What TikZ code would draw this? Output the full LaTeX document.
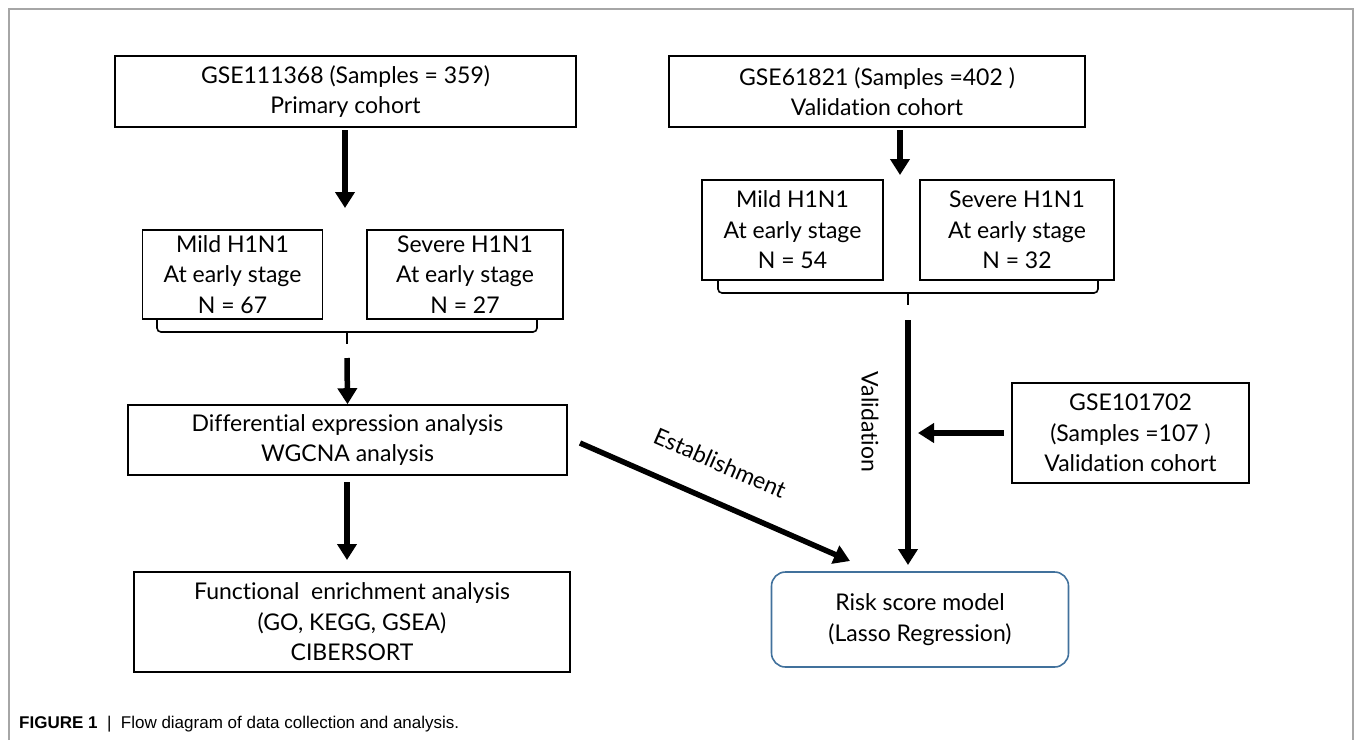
\documentclass[tikz,border=0pt]{standalone}
\usepackage{fontspec}
\setmainfont{Lato}[Ligatures={NoCommon}]
\newfontfamily\capfont{Liberation Sans}
\usetikzlibrary{arrows.meta}
\definecolor{riskblue}{HTML}{41719C}
\definecolor{framegray}{HTML}{A6A6A6}
\begin{document}
\begin{tikzpicture}[x=1pt,y=-1pt,
  box/.style={draw, line width=1.6pt, inner sep=0pt, align=center,
    font=\fontsize{23}{30.5}\selectfont},
  flow/.style={line width=5.5pt, -{Triangle[width=19pt,length=16pt]}},
  brace/.style={line width=1.6pt, rounded corners=4pt},
  lbl/.style={font=\fontsize{23}{26}\selectfont, inner sep=0pt}]
\useasboundingbox (0,0) rectangle (1355,740);
% page frame
\draw[framegray, line width=1.2pt] (9,740) -- (9,9) -- (1353,9) -- (1353,740);

% primary cohort column
\node[box, minimum width=461, minimum height=71] (prim) at (345.5,91.5)
  {GSE111368 (Samples = 359)\\Primary cohort};
\node[box, minimum width=180, minimum height=89] (mild1) at (232.5,274.5)
  {Mild H1N1\\At early stage\\N = 67};
\node[box, minimum width=196, minimum height=89] (sev1) at (465,274.5)
  {Severe H1N1\\At early stage\\N = 27};
\node[box, minimum width=439, minimum height=70] (diff) at (347.5,440)
  {Differential expression analysis\\WGCNA analysis};
\node[box, minimum width=436, minimum height=100] (func) at (352,622)
  {Functional\ \ enrichment analysis\\(GO, KEGG, GSEA)\\CIBERSORT};

% validation cohort column
\node[box, minimum width=416, minimum height=71] (val) at (877,91.5)
  {GSE61821 (Samples =402 )\\Validation cohort};
\node[box, minimum width=181, minimum height=100] (mild2) at (792.5,230)
  {Mild H1N1\\At early stage\\N = 54};
\node[box, minimum width=194, minimum height=100] (sev2) at (1017,230)
  {Severe H1N1\\At early stage\\N = 32};
\node[box, minimum width=237, minimum height=100] (ext) at (1130.5,433)
  {GSE101702\\(Samples =107 )\\Validation cohort};
\node[box, draw=riskblue, rounded corners=14pt, minimum width=297, minimum height=95]
  (risk) at (920,619.5) {Risk score model\\(Lasso Regression)};

% braces grouping the mild and severe groups
\coordinate (b1l) at (157,320);
\coordinate (b1r) at (537,320);
\coordinate (b1t) at (347,344);
\draw[brace] (b1l) |- (b1t |- 0,332) -| (b1r);
\draw[line width=1.6pt] (b1t |- 0,332) -- (b1t);
\coordinate (b2l) at (718,280);
\coordinate (b2r) at (1098,280);
\coordinate (b2t) at (908,305);
\draw[brace] (b2l) |- (b2t |- 0,293) -| (b2r);
\draw[line width=1.6pt] (b2t |- 0,293) -- (b2t);

% arrow end points
\coordinate (a1s) at (345,130);
\coordinate (a1e) at (345,208);
\coordinate (a2s) at (347,358);
\coordinate (a3s) at (347,482);
\coordinate (a3e) at (347,560);
\coordinate (a4s) at (900,130);
\coordinate (a4e) at (900,175);
\coordinate (vs) at (908,320);
\coordinate (ve) at (908,565);
\coordinate (vj) at (918,433);
\coordinate (es) at (580,443);
\coordinate (ee) at (850,561);

\draw[flow] (a1s) -- (a1e);
\draw[flow] (a2s) -- (diff.north);
\draw[flow] (a3s) -- (a3e);
\draw[flow] (a4s) -- (a4e);
\draw[flow] (vs) -- (ve);
\draw[flow] (ext.west) ++(-7,0) -- (vj);
\draw[flow] (es) -- (ee);

% connector labels
\node[lbl, rotate=-90] (vlab) at (870,422) {Validation};
\node[lbl, rotate=-23.6] (elab) at (720,463) {Establishment};

% caption
\node[anchor=base west, inner sep=0pt, font=\capfont\fontsize{17}{20}\selectfont]
  (cap) at (19,728) {\textbf{FIGURE 1}\ \ |\ \ Flow diagram of data collection and analysis.};
\end{tikzpicture}
\end{document}
